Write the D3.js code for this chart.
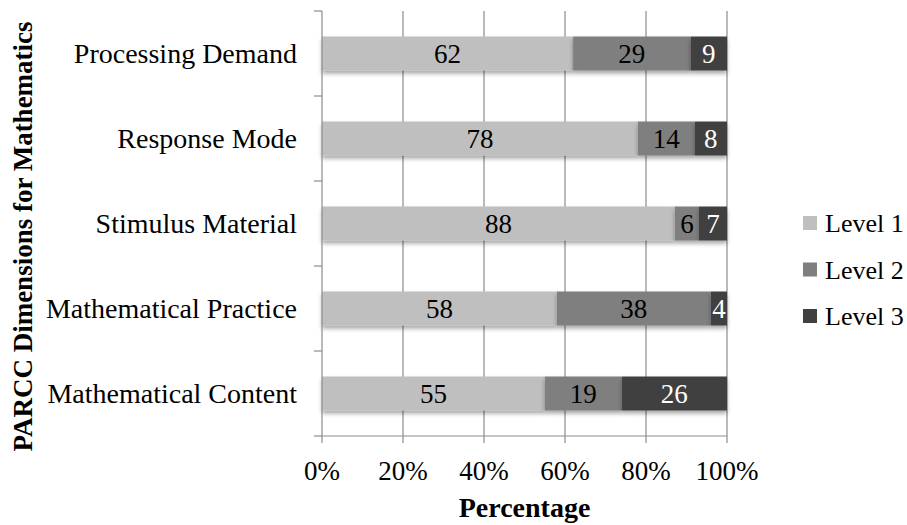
<!DOCTYPE html>
<html><head><meta charset="utf-8">
<script src="https://cdn.jsdelivr.net/npm/d3@7"></script>
<style>
html,body{margin:0;padding:0;background:#fff;}
svg text{font-family:"Liberation Serif","Times New Roman",serif;}
</style></head>
<body><svg id="c" width="907" height="525"></svg>
<script>
const categories = ["Processing Demand","Response Mode","Stimulus Material","Mathematical Practice","Mathematical Content"];
const level1 = [62,78,88,58,55];
const level2 = [29,14,6,38,19];
const level3 = [9,8,7,4,26];
const seriesNames = ["Level 1","Level 2","Level 3"];
const seriesColors = ["#bfbfbf","#7f7f7f","#404040"];
const labelColors = ["#000","#000","#fff"];
const xTicks = [0,0.2,0.4,0.6,0.8,1];

const rows = categories.map((c,i)=>({cat:c,"Level 1":level1[i],"Level 2":level2[i],"Level 3":level3[i]}));
const stack = d3.stack().keys(seriesNames).offset(d3.stackOffsetExpand);
const series = stack(rows);

const svg = d3.select("#c");
const L=322,R=727,T=11,B=436;
const x = d3.scaleLinear().domain([0,1]).range([L,R]);
const y = d3.scaleBand().domain(categories).range([T,B]).paddingInner(0.6).paddingOuter(0.3);

const defs = svg.append("defs");
const f = defs.append("filter").attr("id","sh").attr("x","-5%").attr("y","-30%").attr("width","110%").attr("height","180%");
f.append("feDropShadow").attr("dx",0).attr("dy",3).attr("stdDeviation",2).attr("flood-color","#000").attr("flood-opacity",0.35);

// gridlines
svg.append("g").selectAll("line").data(xTicks.slice(1)).join("line")
  .attr("x1",d=>x(d)).attr("x2",d=>x(d)).attr("y1",T).attr("y2",B)
  .attr("stroke","#8c8c8c").attr("stroke-width",1.2);

// bars
const g = svg.append("g");
series.forEach((s,si)=>{
  g.append("g").attr("filter","url(#sh)").selectAll("rect").data(s).join("rect")
    .attr("x",d=>x(d[0])).attr("width",d=>x(d[1])-x(d[0]))
    .attr("y",d=>y(d.data.cat)).attr("height",y.bandwidth())
    .attr("fill",seriesColors[si]);
});
series.forEach((s,si)=>{
  g.append("g").selectAll("text").data(s).join("text")
    .attr("x",d=>(x(d[0])+x(d[1]))/2).attr("y",d=>y(d.data.cat)+y.bandwidth()/2)
    .attr("dy","0.35em").attr("text-anchor","middle")
    .attr("font-size",27).attr("fill",labelColors[si])
    .text(d=>d.data[seriesNames[si]]);
});

// y axis
const ya = svg.append("g");
ya.append("line").attr("x1",L).attr("x2",L).attr("y1",T).attr("y2",B).attr("stroke","#8c8c8c").attr("stroke-width",1.2);
const yTickPos = d3.range(categories.length+1).map(i=>T+i*y.step()/ (1) );
ya.selectAll(".yt").data(d3.range(categories.length+1)).join("line")
  .attr("x1",L-8).attr("x2",L).attr("y1",i=>T+(B-T)*i/categories.length).attr("y2",i=>T+(B-T)*i/categories.length)
  .attr("stroke","#8c8c8c").attr("stroke-width",1.2);
ya.selectAll("text").data(categories).join("text")
  .attr("x",L-25).attr("y",d=>y(d)+y.bandwidth()/2).attr("dy","0.35em")
  .attr("text-anchor","end").attr("font-size",28).attr("fill","#000").text(d=>d);

// x axis
const xa = svg.append("g");
xa.append("line").attr("x1",L).attr("x2",R).attr("y1",B).attr("y2",B).attr("stroke","#8c8c8c").attr("stroke-width",1.2);
xa.selectAll(".xt").data(xTicks).join("line")
  .attr("x1",d=>x(d)).attr("x2",d=>x(d)).attr("y1",B).attr("y2",B+7)
  .attr("stroke","#8c8c8c").attr("stroke-width",1.2);
xa.selectAll("text").data(xTicks).join("text")
  .attr("x",d=>x(d)).attr("y",480).attr("text-anchor","middle")
  .attr("font-size",27).attr("fill","#000").text(d=>d3.format(".0%")(d));

svg.append("text").attr("x",(L+R)/2).attr("y",517).attr("text-anchor","middle")
  .attr("font-size",28).attr("font-weight","bold").text("Percentage");
svg.append("text").attr("transform","translate(32,236.5) rotate(-90)").attr("text-anchor","middle")
  .attr("font-size",27).attr("font-weight","bold").text("PARCC Dimensions for Mathematics");

// legend
const lg = svg.append("g");
seriesNames.forEach((n,i)=>{
  const cy = 223 + i*46.5;
  lg.append("rect").attr("x",803).attr("y",cy-7).attr("width",14).attr("height",14).attr("fill",seriesColors[i]);
  lg.append("text").attr("x",825).attr("y",cy).attr("dy","0.35em").attr("font-size",26).text(n);
});
</script></body></html>
